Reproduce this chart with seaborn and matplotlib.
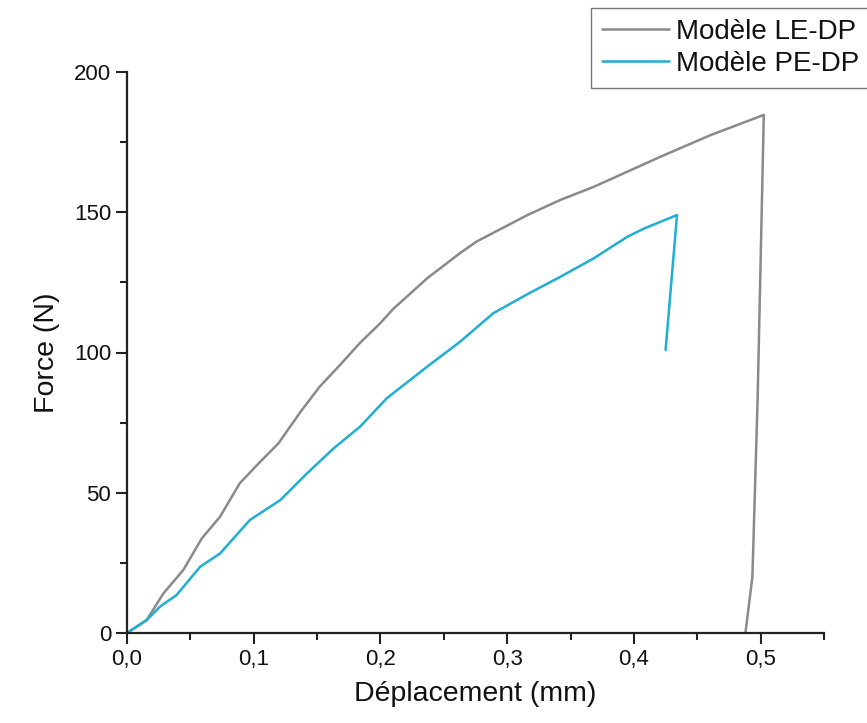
import matplotlib
matplotlib.use("Agg")
import matplotlib.pyplot as plt
import matplotlib.ticker as mticker
import seaborn as sns
import pandas as pd

# Data
le_x = [0.0, 0.0155, 0.0287, 0.0445, 0.059, 0.0735, 0.089, 0.105, 0.1195, 0.137, 0.152,
        0.168, 0.184, 0.2, 0.21, 0.237, 0.263, 0.276, 0.316, 0.342, 0.368, 0.395, 0.421,
        0.4605, 0.5025, 0.4976, 0.4935, 0.488]
le_y = [0.0, 4.6, 14.1, 22.5, 33.7, 41.5, 53.4, 61.0, 67.6, 78.9, 87.8,
        95.5, 103.5, 110.5, 115.5, 126.5, 135.5, 139.6, 149.0, 154.4, 159.0, 164.5, 169.8,
        177.5, 184.7, 83.0, 20.0, 0.0]

pe_x = [0.0, 0.0155, 0.026, 0.039, 0.0577, 0.0735, 0.097, 0.121, 0.142, 0.163, 0.184,
        0.205, 0.237, 0.263, 0.289, 0.316, 0.342, 0.368, 0.395, 0.408, 0.434, 0.425]
pe_y = [0.0, 4.6, 9.4, 13.5, 23.6, 28.4, 40.3, 47.4, 56.9, 65.8, 73.6,
        83.7, 95.0, 103.9, 114.0, 120.8, 127.0, 133.5, 141.3, 144.2, 149.0, 100.9]

labels = ["Modèle LE-DP", "Modèle PE-DP"]
x_ticks = [0.0, 0.1, 0.2, 0.3, 0.4, 0.5]
y_ticks = [0, 50, 100, 150, 200]

sns.set_theme(style="ticks")
plt.rcParams["font.family"] = ["Liberation Sans", "DejaVu Sans"]

df = pd.concat([
    pd.DataFrame({"x": le_x, "y": le_y, "model": labels[0]}),
    pd.DataFrame({"x": pe_x, "y": pe_y, "model": labels[1]}),
], ignore_index=True)

fig = plt.figure(figsize=(8.67, 7.23), dpi=100)
ax = fig.add_axes([127 / 867, 1 - 633 / 723, (824 - 127) / 867, (633 - 72) / 723])

sns.lineplot(data=df, x="x", y="y", hue="model", sort=False, estimator=None,
             palette=["#8a8a8a", "#1faed4"], linewidth=1.8, ax=ax, legend=True)

ax.set_xlim(0, 0.55)
ax.set_ylim(0, 200)
ax.set_xticks(x_ticks)
ax.set_yticks(y_ticks)
ax.xaxis.set_minor_locator(mticker.MultipleLocator(0.05))
ax.yaxis.set_minor_locator(mticker.MultipleLocator(25))
ax.xaxis.set_major_formatter(mticker.FuncFormatter(lambda v, p: f"{v:.1f}".replace(".", ",")))
ax.tick_params(axis="both", which="major", length=8, width=1.5, labelsize=16, direction="out",
               color="#222222", labelcolor="#111111")
ax.tick_params(axis="both", which="minor", length=5, width=1.5, direction="out", color="#222222")
for s in ["top", "right"]:
    ax.spines[s].set_visible(False)
for s in ["left", "bottom"]:
    ax.spines[s].set_linewidth(1.6)
    ax.spines[s].set_color("#222222")

ax.set_xlabel("Déplacement (mm)", fontsize=20.5, labelpad=8, color="#111111")
ax.set_ylabel("Force (N)", fontsize=20.5, labelpad=10, color="#111111")

handles, _ = ax.get_legend_handles_labels()
leg = fig.legend(handles, labels, loc="upper left", bbox_to_anchor=(591 / 867, 1 - 8 / 723),
                 frameon=True, fontsize=20, handlelength=2.4, handletextpad=0.25,
                 borderpad=0.4, labelspacing=0.2, borderaxespad=0, fancybox=False)
leg.get_frame().set_edgecolor("#555555")
leg.get_frame().set_linewidth(1.0)
for t in leg.get_texts():
    t.set_color("#111111")
ax.get_legend().remove()

fig.savefig("out.png", dpi=100)
